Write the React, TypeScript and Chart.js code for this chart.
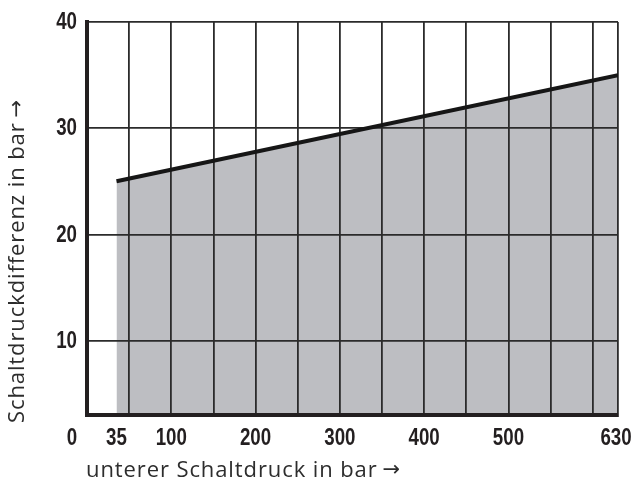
import React, { useEffect, useRef } from 'react';
import { Chart, registerables } from 'chart.js';

Chart.register(...registerables);

// data
const pressure = [35, 630];
const difference = [25, 35];
const xLabelValues = [0, 35, 100, 200, 300, 400, 500, 630];
const xGridValues = [0, 50, 100, 150, 200, 250, 300, 350, 400, 450, 500, 550, 600, 630];
const yTickValues = [10, 20, 30, 40];
const xTitle = 'unterer Schaltdruck in bar';
const yTitle = 'Schaltdruckdifferenz in bar';
const arrow = '→';

const X_MIN = 0;
const X_MAX = 630;
const Y_MIN = 3;
const Y_MAX = 40;

const INK = '#231f20';
const FILL = '#bdbec2';
const TICK_FONT = "bold 24px 'Liberation Sans', Arial, sans-serif";
const TICK_SQUEEZE = 0.78;
const TITLE_FONT = "22px 'Open Sans', 'Liberation Sans', sans-serif";
const ARROW_FONT = "21px 'DejaVu Sans', sans-serif";

function squeezedText(ctx: CanvasRenderingContext2D, text: string, x: number, y: number) {
  ctx.save();
  ctx.translate(x, y);
  ctx.scale(TICK_SQUEEZE, 1);
  ctx.fillText(text, 0, 0);
  ctx.restore();
}

function titleWithArrow(ctx: CanvasRenderingContext2D, text: string) {
  ctx.font = TITLE_FONT;
  (ctx as any).letterSpacing = '0.9px';
  const w = ctx.measureText(text).width;
  ctx.fillText(text, 0, 0);
  (ctx as any).letterSpacing = '0px';
  ctx.font = ARROW_FONT;
  ctx.fillText(arrow, w + 5, 0);
  return w;
}

const textPlugin = {
  id: 'textPlugin',
  afterDraw(chart: any) {
    const ctx = chart.ctx as CanvasRenderingContext2D;
    const xs = chart.scales.x;
    const ys = chart.scales.y;
    const area = chart.chartArea;
    ctx.save();
    ctx.fillStyle = INK;
    ctx.font = TICK_FONT;
    ctx.textBaseline = 'middle';
    ctx.textAlign = 'center';
    xLabelValues.forEach((v) => {
      let px = xs.getPixelForValue(v);
      if (v === X_MIN) px -= 15;
      if (v === X_MAX) px -= 2;
      squeezedText(ctx, String(v), px, area.bottom + 23);
    });
    ctx.textAlign = 'right';
    yTickValues.forEach((v) => {
      squeezedText(ctx, String(v), area.left - 10, ys.getPixelForValue(v) + 0.5);
    });

    ctx.fillStyle = '#2d2d2d';
    ctx.textAlign = 'left';
    ctx.save();
    ctx.translate(86, 471);
    titleWithArrow(ctx, xTitle);
    ctx.restore();

    ctx.save();
    ctx.translate(18, 423);
    ctx.rotate(-Math.PI / 2);
    titleWithArrow(ctx, yTitle);
    ctx.restore();
    ctx.restore();
  },
};

export default function App() {
  const ref = useRef<HTMLCanvasElement | null>(null);
  useEffect(() => {
    document.body.style.margin = '0';
    if (!ref.current) return;
    const chart = new Chart(ref.current, {
      type: 'line',
      data: {
        datasets: [
          {
            data: pressure.map((x, i) => ({ x, y: difference[i] })),
            borderColor: '#161616',
            borderWidth: 4,
            backgroundColor: FILL,
            fill: 'start',
            pointRadius: 0,
            tension: 0,
          },
        ],
      },
      options: {
        animation: false,
        responsive: false,
        layout: { padding: { top: 22, right: 17, left: 0, bottom: 0 } },
        plugins: {
          legend: { display: false },
          tooltip: { enabled: false },
          filler: { drawTime: 'beforeDraw' },
        } as any,
        scales: {
          x: {
            type: 'linear',
            min: X_MIN,
            max: X_MAX,
            afterBuildTicks: (s: any) => {
              s.ticks = xGridValues.map((v) => ({ value: v }));
            },
            afterFit: (s: any) => {
              s.height = 73;
            },
            ticks: { display: false },
            grid: {
              drawTicks: false,
              color: (c: any) => (c.tick && c.tick.value === X_MIN ? 'rgba(0,0,0,0)' : '#2b2b2b'),
              lineWidth: 1.8,
            },
            border: { display: true, width: 4, color: INK },
          },
          y: {
            type: 'linear',
            min: Y_MIN,
            max: Y_MAX,
            afterBuildTicks: (s: any) => {
              s.ticks = yTickValues.map((v) => ({ value: v }));
            },
            afterFit: (s: any) => {
              s.width = 87;
            },
            ticks: { display: false },
            grid: { drawTicks: false, color: '#2b2b2b', lineWidth: 1.8 },
            border: { display: true, width: 4, color: INK },
          },
        },
      } as any,
      plugins: [textPlugin],
    });
    return () => chart.destroy();
  }, []);
  return (
    <div style={{ width: 635, height: 488, position: 'relative' }}>
      <canvas ref={ref} width={635} height={488} style={{ display: 'block' }} />
    </div>
  );
}
